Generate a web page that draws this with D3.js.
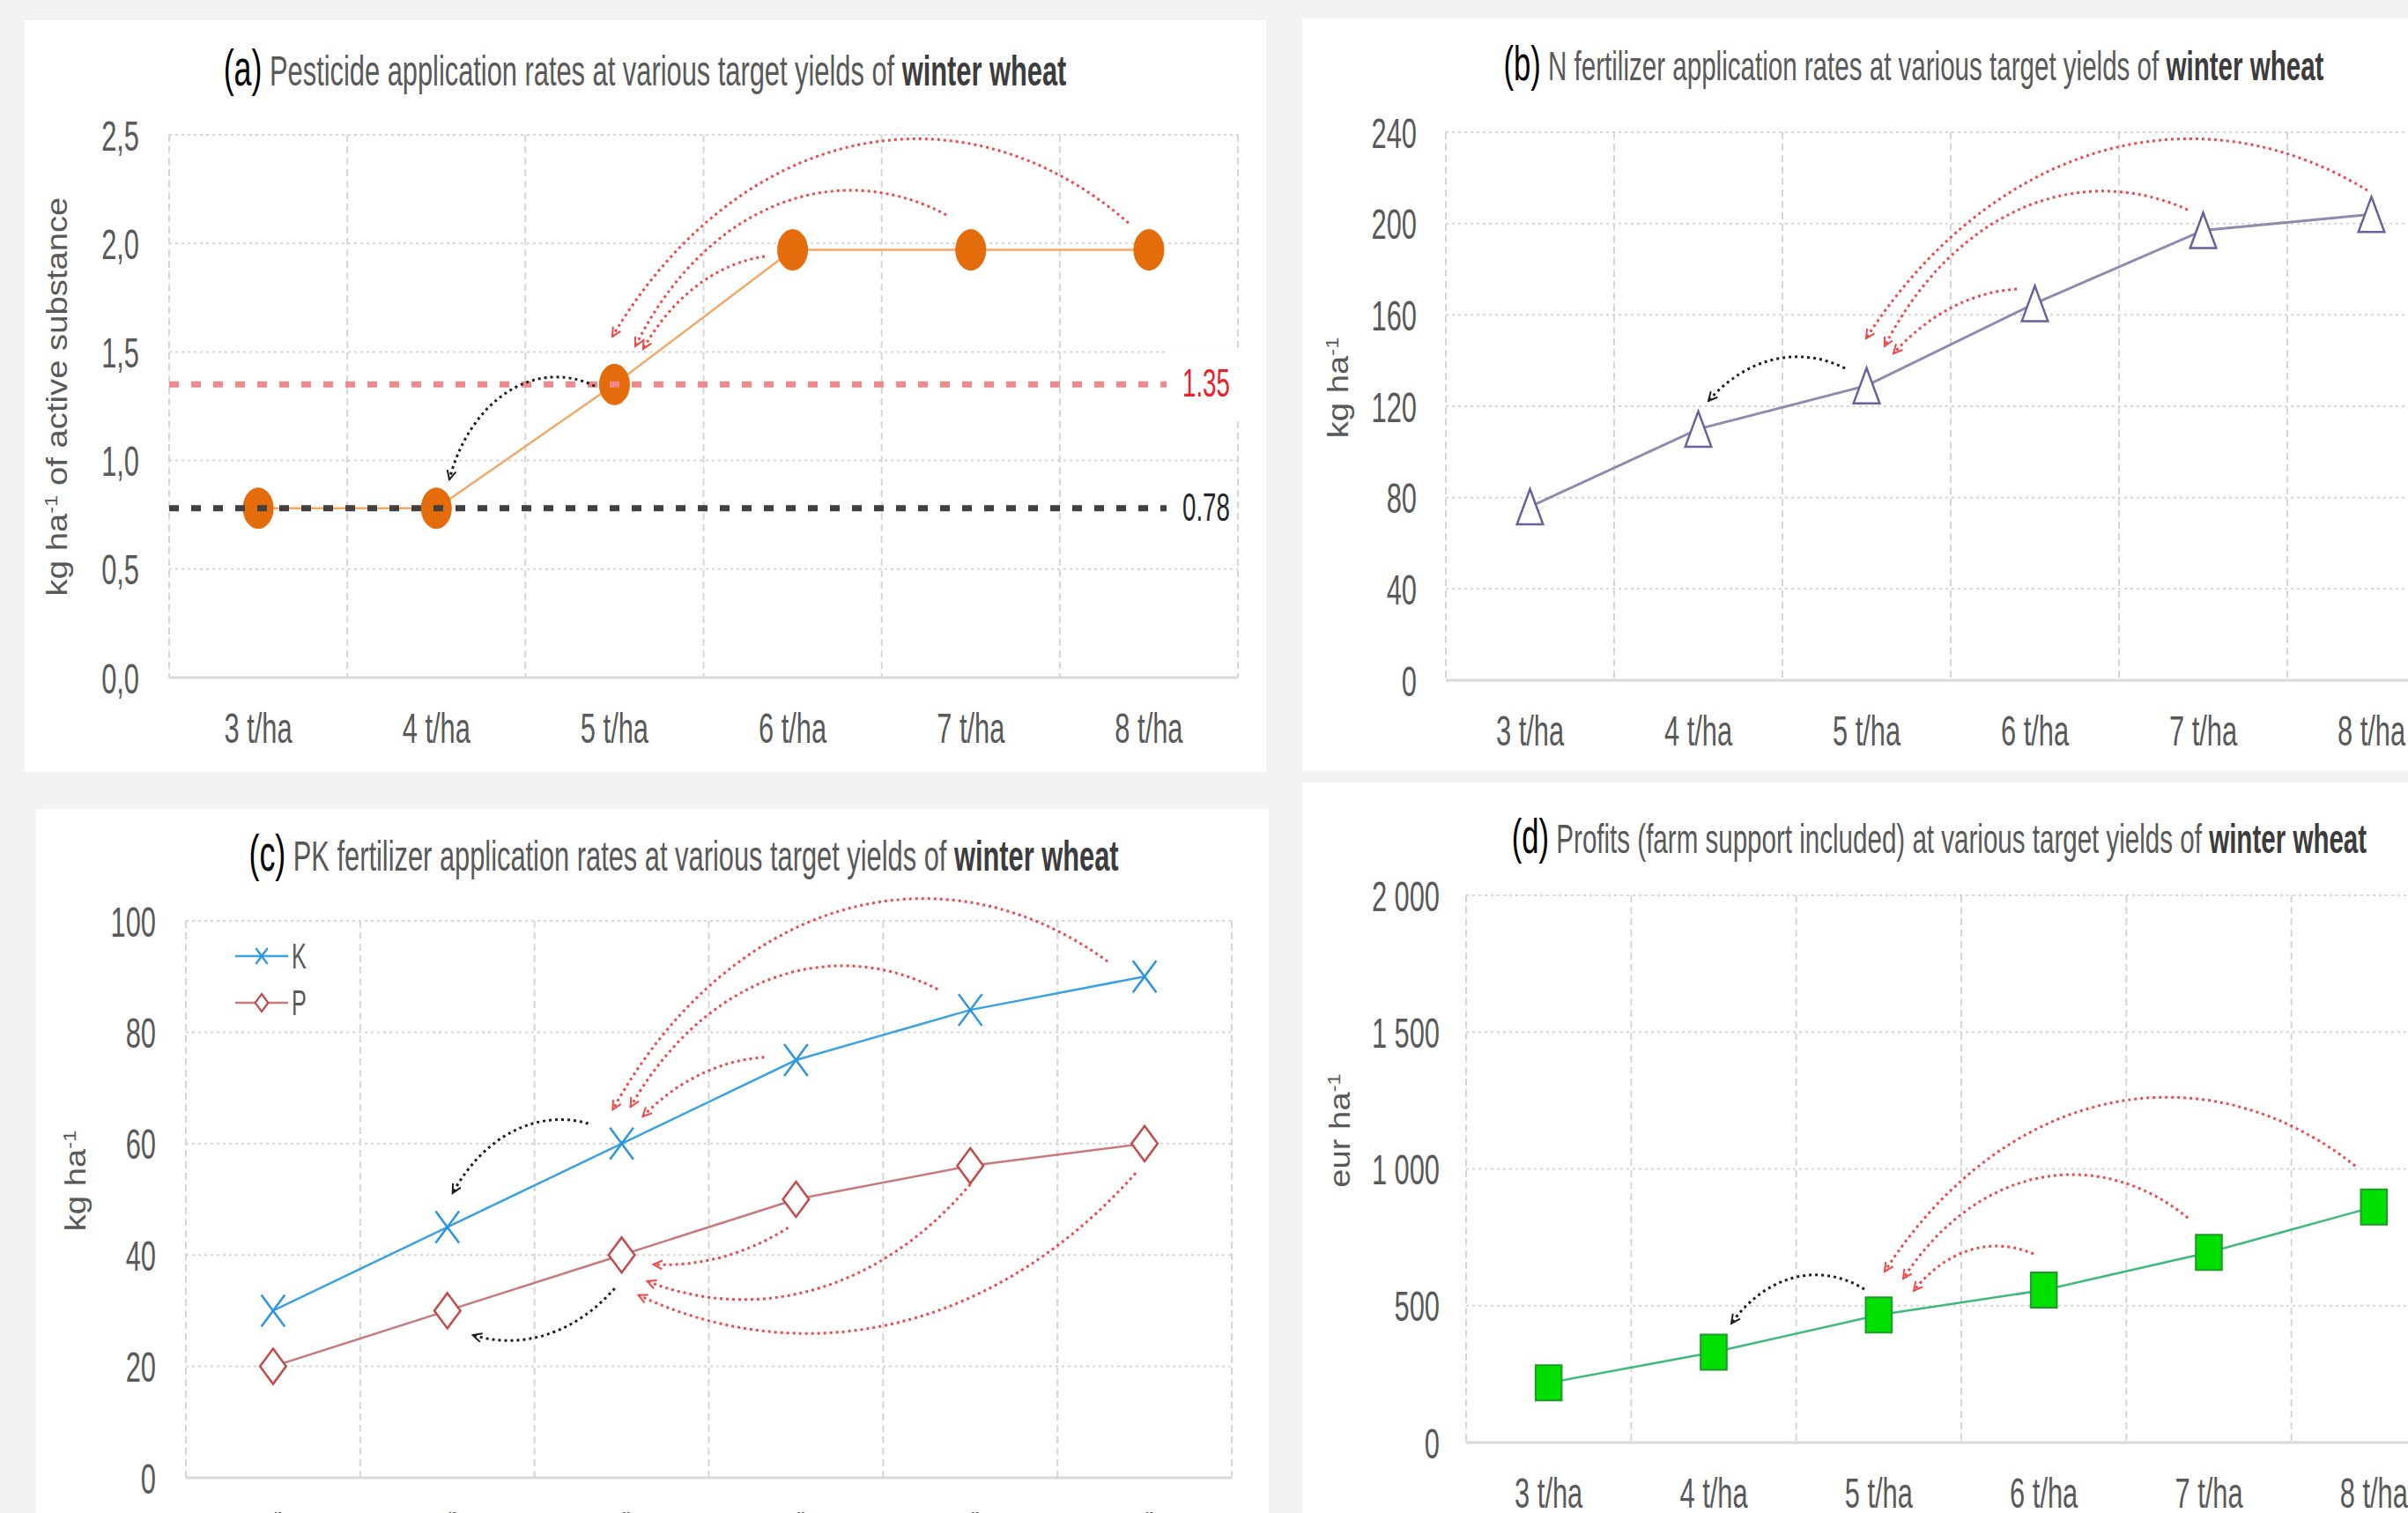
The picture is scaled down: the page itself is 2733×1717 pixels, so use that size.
<!DOCTYPE html>
<html>
<head>
<meta charset="utf-8">
<script src="https://cdn.jsdelivr.net/npm/d3@7"></script>
<style>
  body { margin: 0; background: #f2f2f2; }
  svg { display: block; }
</style>
</head>
<body>
<script>
// ---- data -------------------------------------------------------------
const categories = ["3 t/ha", "4 t/ha", "5 t/ha", "6 t/ha", "7 t/ha", "8 t/ha"];

const pesticideRate = [0.78, 0.78, 1.35, 1.97, 1.97, 1.97];
const pesticideLevels = [1.35, 0.78];
const nitrogenRate = [76, 110, 129, 165, 197, 204];
const potassiumRate = [30, 45, 60, 75, 84, 90];
const phosphorusRate = [20, 30, 40, 50, 56, 60];
const profitEur = [218, 330, 466, 557, 695, 861];

const ticksPesticide = [0, 0.5, 1, 1.5, 2, 2.5];
const ticksNitrogen = [0, 40, 80, 120, 160, 200, 240];
const ticksPK = [0, 20, 40, 60, 80, 100];
const ticksProfit = [0, 500, 1000, 1500, 2000];

// curved shift arrows, each as [category index, value] for start, a point on the curve, and end
const shiftsPesticide = [
  { from: [4.886, 2.094], via: [3.55, 2.476], to: [1.988, 1.571], tone: "red" },
  { from: [3.863, 2.131], via: [3.363, 2.244], to: [2.117, 1.526], tone: "red" },
  { from: [2.844, 1.94], via: [2.458, 1.802], to: [2.161, 1.514], tone: "red" },
  { from: [1.889, 1.343], via: [1.276, 1.23], to: [1.073, 0.913], tone: "black" }
];
const shiftsNitrogen = [
  { from: [4.976, 214.5], via: [3.694, 236.1], to: [1.997, 149.7], tone: "red" },
  { from: [3.908, 206], via: [2.594, 191.8], to: [2.107, 146.2], tone: "red" },
  { from: [2.893, 171.3], via: [2.463, 161.5], to: [2.16, 143.1], tone: "red" },
  { from: [1.872, 136.6], via: [1.62, 141.6], to: [1.06, 122.3], tone: "black" }
];
const shiftsPK = [
  { from: [4.788, 92.7], via: [3.722, 104], to: [1.949, 66.1], tone: "red" },
  { from: [3.813, 87.7], via: [2.606, 85.6], to: [2.051, 66.6], tone: "red" },
  { from: [2.818, 75.5], via: [2.424, 72], to: [2.121, 64.9], tone: "red" },
  { from: [1.808, 63.6], via: [1.586, 64.2], to: [1.03, 51.1], tone: "black" },
  { from: [2.955, 44.9], via: [2.606, 39.9], to: [2.182, 38.3], tone: "red" },
  { from: [4.0, 52.7], via: [3.071, 33.5], to: [2.146, 35.3], tone: "red" },
  { from: [4.949, 54.7], via: [3.071, 25.9], to: [2.096, 32.8], tone: "red" },
  { from: [1.96, 34], via: [1.404, 24.7], to: [1.146, 25.6], tone: "black" }
];
const shiftsProfit = [
  { from: [4.887, 1011], via: [3.76, 1262], to: [2.036, 625], tone: "red" },
  { from: [3.873, 821], via: [3.147, 979], to: [2.148, 599], tone: "red" },
  { from: [2.938, 689], via: [2.709, 718], to: [2.212, 554], tone: "red" },
  { from: [1.913, 560], via: [1.652, 612], to: [1.107, 435], tone: "black" }
];

// ---- setup ------------------------------------------------------------
const W = 2733, H = 1717;
const FONT = "'Liberation Sans', Arial, sans-serif";
const SX = 0.74;            // horizontal compression of the whole figure
const NARROW = 0.85;        // narrow face
const TX = SX * NARROW;
const GREY_TEXT = "#595959";
const TICK_SIZE = 49;
const ARC_COLORS = { red: "#f04848", black: "#1e1e1e" };

const locale = d3.formatLocale({ decimal: ",", thousands: "\u00a0", grouping: [3], currency: ["", ""] });

const svg = d3.select("body").append("svg").attr("width", W).attr("height", H);
svg.append("rect").attr("width", W).attr("height", H).attr("fill", "#f2f2f2");

const defs = svg.append("defs");
Object.entries(ARC_COLORS).forEach(([k, c]) => {
  defs.append("marker")
    .attr("id", "arrow-" + k)
    .attr("viewBox", "0 0 14 14").attr("refX", 12).attr("refY", 7)
    .attr("markerWidth", 14).attr("markerHeight", 14)
    .attr("markerUnits", "userSpaceOnUse").attr("orient", "auto")
    .append("path").attr("d", "M2,2 L12,7 L2,12")
    .attr("fill", "none").attr("stroke", c).attr("stroke-width", 2);
});

const shapes = {
  circle: d3.symbol(d3.symbolCircle, Math.PI * 23 * 23)(),
  triangle: "M0,-20L20,20L-20,20Z",
  square: "M-20,-20H20V20H-20Z",
  diamond: "M0,-20L20,0L0,20L-20,0Z",
  cross: "M-18,-18L18,18M-18,18L18,-18"
};

function label(g, x, y, str, opts = {}) {
  return g.append("text")
    .attr("transform", `translate(${x},${y}) scale(${TX},1)`)
    .attr("text-anchor", opts.anchor || "middle")
    .style("font-family", FONT)
    .style("font-size", (opts.size || 46) + "px")
    .style("font-weight", opts.weight || "normal")
    .attr("fill", opts.fill || GREY_TEXT)
    .text(str);
}

// circle through three points (x uncompressed), drawn as an elliptical arc
function arcPath(p0, p1, p2) {
  const a = [p0[0] / SX, p0[1]], b = [p1[0] / SX, p1[1]], c = [p2[0] / SX, p2[1]];
  const d = 2 * (a[0] * (b[1] - c[1]) + b[0] * (c[1] - a[1]) + c[0] * (a[1] - b[1]));
  if (Math.abs(d) < 1e-6) return `M${p0}L${p2}`;
  const s = p => p[0] * p[0] + p[1] * p[1];
  const ux = (s(a) * (b[1] - c[1]) + s(b) * (c[1] - a[1]) + s(c) * (a[1] - b[1])) / d;
  const uy = (s(a) * (c[0] - b[0]) + s(b) * (a[0] - c[0]) + s(c) * (b[0] - a[0])) / d;
  const r = Math.hypot(a[0] - ux, a[1] - uy);
  const cross = (b[0] - a[0]) * (c[1] - b[1]) - (b[1] - a[1]) * (c[0] - b[0]);
  const sweep = cross > 0 ? 1 : 0;
  // same side of chord for via point and centre -> more than half a circle
  const side = (p) => (c[0] - a[0]) * (p[1] - a[1]) - (c[1] - a[1]) * (p[0] - a[0]);
  const large = side(b) * side([ux, uy]) > 0 ? 1 : 0;
  return `M${p0[0]},${p0[1]} A${r * SX},${r} 0 ${large} ${sweep} ${p2[0]},${p2[1]}`;
}

function panel(cfg) {
  const g = svg.append("g");
  g.append("rect")
    .attr("x", cfg.card[0]).attr("y", cfg.card[1])
    .attr("width", cfg.card[2] - cfg.card[0]).attr("height", cfg.card[3] - cfg.card[1])
    .attr("fill", "#ffffff");

  const x = d3.scaleBand().domain(categories).range([cfg.left, cfg.right]);
  const xi = d3.scaleLinear().domain([-0.5, categories.length - 0.5]).range([cfg.left, cfg.right]);
  const y = d3.scaleLinear().domain([0, cfg.ticks[cfg.ticks.length - 1]]).range([cfg.bottom, cfg.top]);
  const cx = i => x(categories[i]) + x.bandwidth() / 2;

  // gridlines
  g.append("g").selectAll("line").data(cfg.ticks.filter(t => t > 0)).join("line")
    .attr("x1", cfg.left).attr("x2", cfg.right)
    .attr("y1", d => y(d)).attr("y2", d => y(d))
    .attr("stroke", "#d6d6d6").attr("stroke-width", 2).attr("stroke-dasharray", "3 4");
  g.append("g").selectAll("line").data(d3.range(categories.length + 1).map(i => i - 0.5)).join("line")
    .attr("x1", d => xi(d)).attr("x2", d => xi(d))
    .attr("y1", y(cfg.ticks[cfg.ticks.length - 1])).attr("y2", y(0))
    .attr("stroke", "#d6d6d6").attr("stroke-width", 2).attr("stroke-dasharray", "8 5");
  g.append("line")
    .attr("x1", cfg.left).attr("x2", cfg.right).attr("y1", y(0)).attr("y2", y(0))
    .attr("stroke", "#d9d9d9").attr("stroke-width", 3);

  // axes
  const ya = g.append("g").attr("transform", `translate(${cfg.left},0)`)
    .call(d3.axisLeft(y).tickValues(cfg.ticks).tickFormat(cfg.fmt).tickSize(0));
  ya.select(".domain").remove();
  ya.selectAll("text")
    .attr("x", null).attr("dy", null)
    .attr("transform", `translate(${-cfg.pad},17) scale(${TX},1)`)
    .attr("fill", GREY_TEXT).style("font-family", FONT).style("font-size", TICK_SIZE + "px");

  const xa = g.append("g").attr("transform", `translate(0,${y(0)})`)
    .call(d3.axisBottom(x).tickSize(0));
  xa.select(".domain").remove();
  xa.selectAll("text")
    .attr("y", null).attr("dy", null)
    .attr("transform", `translate(0,${cfg.xlabel}) scale(${TX},1)`)
    .attr("fill", GREY_TEXT).style("font-family", FONT).style("font-size", TICK_SIZE + "px");

  // title
  const t = g.append("text")
    .attr("transform", `translate(${cfg.title[0]},${cfg.title[1]}) scale(${TX},1)`)
    .attr("text-anchor", "middle").style("font-family", FONT);
  t.append("tspan").attr("fill", "#000").style("font-size", (cfg.titleSize + 8) + "px").text(cfg.titleParts[0]);
  t.append("tspan").attr("fill", GREY_TEXT).style("font-size", cfg.titleSize + "px").text(" " + cfg.titleParts[1] + " ");
  t.append("tspan").attr("fill", "#3c3c3c").style("font-size", cfg.titleSize + "px").style("font-weight", "bold").text(cfg.titleParts[2]);

  // y-axis title (rotated)
  const yt = g.append("text")
    .attr("transform", `translate(${cfg.ytitle[0]},${cfg.ytitle[1]}) scale(${SX},1) rotate(-90) scale(${NARROW},1)`)
    .attr("text-anchor", "middle").attr("fill", GREY_TEXT)
    .style("font-family", FONT).style("font-size", "45px");
  yt.append("tspan").text(cfg.yParts[0]);
  yt.append("tspan").attr("dy", -15).style("font-size", "28px").text("-1");
  yt.append("tspan").attr("dy", 15).text(cfg.yParts[1]);

  return { g, x, xi, y, cx };
}

function series(p, values, o) {
  const line = d3.line().x((d, i) => p.cx(i)).y(d => p.y(d));
  p.g.append("path").datum(values).attr("d", line)
    .attr("fill", "none").attr("stroke", o.line).attr("stroke-width", o.width || 2.5);
  p.g.append("g").selectAll("path").data(values).join("path")
    .attr("d", shapes[o.shape])
    .attr("transform", (d, i) => `translate(${p.cx(i)},${p.y(d)}) scale(${SX},1)`)
    .attr("fill", o.fill).attr("stroke", o.stroke).attr("stroke-width", o.strokeWidth || 2.5)
    .attr("vector-effect", "non-scaling-stroke");
}

function shifts(p, list) {
  const pt = v => [p.xi(v[0]), p.y(v[1])];
  p.g.append("g").selectAll("path").data(list).join("path")
    .attr("d", d => arcPath(pt(d.from), pt(d.via), pt(d.to)))
    .attr("fill", "none")
    .attr("stroke", d => ARC_COLORS[d.tone])
    .attr("stroke-width", 3)
    .attr("stroke-dasharray", "3 4")
    .attr("marker-end", d => `url(#arrow-${d.tone})`);
}

// ---- (a) pesticide ----------------------------------------------------
const pa = panel({
  card: [28, 23, 1437, 876], left: 192, right: 1405, top: 153, bottom: 769,
  ticks: ticksPesticide, fmt: locale.format(",.1f"), pad: 34, xlabel: 74,
  title: [732, 97], titleSize: 49,
  titleParts: ["(a)", "Pesticide application rates at various target yields of", "winter wheat"],
  ytitle: [76, 450], yParts: ["kg ha", " of active substance"]
});
series(pa, pesticideRate, { shape: "circle", line: "#f3a866", fill: "#e46c0a", stroke: "#e46c0a", strokeWidth: 1 });

// reference levels with value labels
const levelColors = ["#f08a8a", "#404040"];
const levelText = ["#e8202a", "#262626"];
pa.g.append("rect").attr("x", 1324).attr("y", pa.y(1.35) - 38).attr("width", 88).attr("height", 80).attr("fill", "#fff");
pa.g.append("g").selectAll("line").data(pesticideLevels).join("line")
  .attr("x1", 192).attr("x2", 1324)
  .attr("y1", d => pa.y(d)).attr("y2", d => pa.y(d))
  .attr("stroke", (d, i) => levelColors[i]).attr("stroke-width", 7)
  .attr("stroke-dasharray", "11 14");
pesticideLevels.forEach((v, i) => {
  label(pa.g, 1342, pa.y(v) + 14, d3.format(".2f")(v), { anchor: "start", size: 44, fill: levelText[i] });
});
shifts(pa, shiftsPesticide);

// ---- (b) nitrogen -----------------------------------------------------
const pb = panel({
  card: [1478, 21, 2760, 875], left: 1641, right: 2787, top: 150, bottom: 772,
  ticks: ticksNitrogen, fmt: locale.format("d"), pad: 33, xlabel: 74,
  title: [2172, 91], titleSize: 47,
  titleParts: ["(b)", "N fertilizer application rates at various target yields of", "winter wheat"],
  ytitle: [1530, 440], yParts: ["kg ha", ""]
});
series(pb, nitrogenRate, { shape: "triangle", line: "#9089b0", fill: "#ffffff", stroke: "#6b5f9e", width: 3 });
shifts(pb, shiftsNitrogen);

// ---- (c) P and K ------------------------------------------------------
const pc = panel({
  card: [41, 918, 1440, 1740], left: 211, right: 1398, top: 1045, bottom: 1677,
  ticks: ticksPK, fmt: locale.format("d"), pad: 34, xlabel: 74,
  title: [776, 988], titleSize: 49,
  titleParts: ["(c)", "PK fertilizer application rates at various target yields of", "winter wheat"],
  ytitle: [97, 1340], yParts: ["kg ha", ""]
});
series(pc, potassiumRate, { shape: "cross", line: "#3aa2e2", fill: "none", stroke: "#2a94e0" });
series(pc, phosphorusRate, { shape: "diamond", line: "#c87a7a", fill: "#ffffff", stroke: "#c44a4a" });
shifts(pc, shiftsPK);

// legend
const legendItems = [
  { name: "K", line: "#3aa2e2", stroke: "#2a94e0", fill: "none", shape: "cross" },
  { name: "P", line: "#c87a7a", stroke: "#c44a4a", fill: "#ffffff", shape: "diamond" }
];
const lg = pc.g.append("g").selectAll("g").data(legendItems).join("g")
  .attr("transform", (d, i) => `translate(267,${1085 + i * 53})`);
lg.append("line").attr("x1", 0).attr("x2", 60).attr("stroke", d => d.line).attr("stroke-width", 2.5);
lg.append("path").attr("d", d => shapes[d.shape])
  .attr("transform", `translate(30,0) scale(${SX * 0.5},0.5)`)
  .attr("fill", d => d.fill).attr("stroke", d => d.stroke).attr("stroke-width", 2.2)
  .attr("vector-effect", "non-scaling-stroke");
lg.each(function (d) { label(d3.select(this), 64, 14, d.name, { anchor: "start", size: 40 }); });

// ---- (d) profit -------------------------------------------------------
const pd = panel({
  card: [1478, 888, 2760, 1740], left: 1664, right: 2788, top: 1016, bottom: 1637,
  ticks: ticksProfit, fmt: locale.format(","), pad: 30, xlabel: 74,
  title: [2201, 968], titleSize: 47,
  titleParts: ["(d)", "Profits (farm support included) at various target yields of", "winter wheat"],
  ytitle: [1532, 1283], yParts: ["eur ha", ""]
});
series(pd, profitEur, { shape: "square", line: "#3dba7a", fill: "#00e000", stroke: "#1e9a2a", strokeWidth: 2 });
shifts(pd, shiftsProfit);
</script>
</body>
</html>
